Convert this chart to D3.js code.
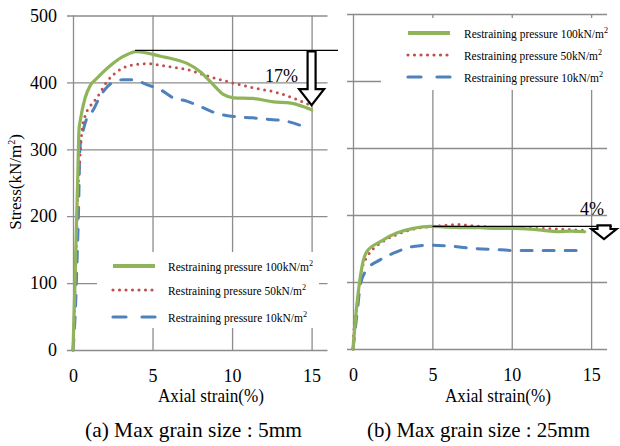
<!DOCTYPE html>
<html>
<head>
<meta charset="utf-8">
<script src="https://cdn.jsdelivr.net/npm/d3@7"></script>
<style>
  body { margin: 0; background: #fff; }
  svg text { font-family: "Liberation Serif", "Times New Roman", serif; fill: #000; }
</style>
</head>
<body>
<svg width="620" height="446"></svg>
<script>
// ---- data ----
var xTicks = [0, 5, 10, 15];
var yTicks = [0, 100, 200, 300, 400, 500];
var seriesNames = ["Restraining pressure 100kN/m", "Restraining pressure 50kN/m", "Restraining pressure 10kN/m"];
var panelTitles = ["(a) Max grain size : 5mm", "(b) Max grain size : 25mm"];

// (a) max grain size 5mm
var strainA100 = [0, 0.1, 0.2, 0.3, 0.38, 0.45, 0.75, 1.1, 1.5, 2.3, 3.1, 4.0, 4.65, 5.5, 6.3, 7.2, 8.0, 8.8, 9.45, 10.1, 11.3, 12.6, 13.7, 15.0];
var stressA100 = [0, 80, 170, 260, 330, 342, 376, 396, 406, 424, 438, 446, 444, 439, 435, 428, 416, 397, 382, 377, 376, 371, 369, 359];
var strainA50 = [0, 0.1, 0.2, 0.3, 0.44, 0.55, 0.75, 1.07, 1.5, 2.1, 2.95, 4.0, 4.65, 5.9, 7.2, 8.4, 9.9, 11.3, 12.8, 13.8, 15.0];
var stressA50 = [0, 70, 150, 230, 289, 325, 349, 364, 377, 400, 419, 427, 428, 424, 419, 410, 400, 392, 385, 377, 365];
var strainA10 = [0, 0.15, 0.25, 0.35, 0.44, 0.6, 0.88, 1.28, 1.7, 2.1, 2.5, 3.15, 3.8, 4.6, 5.5, 6.3, 7.15, 8.0, 9.0, 10.1, 11.3, 12.2, 13.4, 14.4];
var stressA10 = [0, 60, 130, 210, 304, 324, 347, 359, 379, 392, 400, 404, 404, 397, 389, 377, 372, 364, 354, 349, 347, 345, 342, 335];

// (b) max grain size 25mm
var strainB100 = [0, 0.23, 0.55, 0.86, 1.7, 2.75, 3.8, 4.85, 6.0, 7.0, 8.0, 9.0, 10.0, 11.2, 12.0, 12.85, 13.7, 14.6];
var stressB100 = [0, 63, 121, 145, 160, 173, 180, 183, 182, 181, 181, 180, 180, 179, 177, 175, 176, 175];
var strainB50 = [0, 0.05, 0.25, 0.55, 0.9, 1.3, 2.0, 3.0, 4.0, 5.0, 6.0, 6.6, 7.5, 8.5, 10.0, 11.5, 13.0, 14.6];
var stressB50 = [0, 25, 65, 118, 138, 150, 162, 173, 180, 183, 185, 186, 184, 182, 181, 180, 179, 177];
var strainB10 = [0, 0.26, 0.48, 0.86, 1.7, 2.75, 3.8, 4.85, 5.9, 7.6, 9.3, 10.1, 12.2, 14.6];
var stressB10 = [0, 54, 98, 118, 133, 145, 153, 155, 154, 150, 148, 147, 147, 147];

var colors = ["#8fb45a", "#c0504d", "#4f81bd"];
var dashes = [null, "0,6.5", "11,11"];

function zip(xs, ys) {
  return xs.map(function(x, i) { return { x: x, y: ys[i] }; });
}

var svg = d3.select("svg");

var panels = [
  { left: 73, right: 327.5, top: 15.5, bottom: 350, yLabels: true, title: panelTitles[0],
    titleX: 193.5, titleW: 217, axisX: 211,
    series: [zip(strainA100, stressA100), zip(strainA50, stressA50), zip(strainA10, stressA10)],
    legend: { x0: 97, y0: 252, w: 222, h: 76, rows: [266, 290, 317], sx: 113, tx: 168, tw: [145, 138, 139] } },
  { left: 353, right: 607, top: 14, bottom: 349, yLabels: false, title: panelTitles[1],
    titleX: 478.5, titleW: 223, axisX: 498,
    series: [zip(strainB100, stressB100), zip(strainB50, stressB50), zip(strainB10, stressB10)],
    legend: { x0: 381, y0: 18, w: 232, h: 72, rows: [33, 55, 77], sx: 408, tx: 464, tw: [144, 138, 139] } }
];

panels.forEach(function(p, pi) {
  var x = d3.scaleLinear().domain([0, 16]).range([p.left, p.right]);
  var y = d3.scaleLinear().domain([0, 500]).range([p.bottom, p.top]);
  var g = svg.append("g");

  // gridlines via axes
  var yAxis = d3.axisLeft(y).tickValues(yTicks).tickSize(-(p.right - p.left)).tickSizeOuter(0);
  var ya = g.append("g").attr("transform", "translate(" + p.left + ",0)").call(yAxis);
  ya.select(".domain").remove();
  ya.selectAll(".tick line").attr("x1", -6).attr("stroke", "#8c8c8c").attr("stroke-width", 1.3);
  ya.selectAll(".tick text").style("font-family", "Liberation Serif").style("font-size", "18px")
    .attr("x", -16);
  if (!p.yLabels) ya.selectAll(".tick text").remove();

  var xAxis = d3.axisBottom(x).tickValues(xTicks).tickSize(-(p.bottom - p.top)).tickSizeOuter(0);
  var xa = g.append("g").attr("transform", "translate(0," + p.bottom + ")").call(xAxis);
  xa.select(".domain").remove();
  xa.selectAll(".tick line").attr("y1", 0).attr("stroke", "#8c8c8c").attr("stroke-width", 1.3);
  xa.selectAll(".tick text").style("font-family", "Liberation Serif").style("font-size", "18px")
    .attr("y", 32).attr("dy", 0);

  // legend box hides grid
  var L = p.legend;
  g.append("rect").attr("x", L.x0).attr("y", L.y0).attr("width", L.w).attr("height", L.h).attr("fill", "#fff");

  var line = d3.line().x(function(d) { return x(d.x); }).y(function(d) { return y(d.y); })
    .curve(d3.curveMonotoneX);

  // draw 10, 50, then 100
  [2, 1, 0].forEach(function(si) {
    g.append("path").datum(p.series[si]).attr("d", line)
      .attr("fill", "none").attr("stroke", colors[si]).attr("stroke-width", si === 0 ? 3.2 : 3)
      .attr("stroke-linecap", "round").attr("stroke-linejoin", "round")
      .attr("stroke-dasharray", dashes[si]);
  });

  seriesNames.forEach(function(name, si) {
    var ry = L.rows[si];
    g.append("line").attr("x1", L.sx).attr("x2", L.sx + 42).attr("y1", ry).attr("y2", ry)
      .attr("stroke", colors[si]).attr("stroke-width", si === 0 ? 4 : 3.2)
      .attr("stroke-linecap", si === 0 ? "butt" : "round")
      .attr("stroke-dasharray", si === 2 ? "13,16" : dashes[si]);
    var t = g.append("text").attr("x", L.tx).attr("y", ry + 4.5).style("font-size", "12px")
      .attr("textLength", L.tw[si]).attr("lengthAdjust", "spacingAndGlyphs");
    t.append("tspan").text(name);
    t.append("tspan").attr("dy", -5).style("font-size", "8.5px").text("2");
  });

  // axis title
  g.append("text").attr("x", p.axisX).attr("y", 402).attr("text-anchor", "middle")
    .style("font-size", "19px").attr("textLength", 106).attr("lengthAdjust", "spacingAndGlyphs")
    .text("Axial strain(%)");
  // panel caption
  g.append("text").attr("x", p.titleX).attr("y", 437).attr("text-anchor", "middle")
    .style("font-size", "22px").attr("textLength", p.titleW).attr("lengthAdjust", "spacingAndGlyphs")
    .text(p.title);

  p.x = x; p.y = y; p.g = g;
});

// y axis title
var yt = svg.append("text").attr("transform", "translate(21,182) rotate(-90)").attr("text-anchor", "middle")
  .style("font-size", "17px");
yt.append("tspan").text("Stress(kN/m");
yt.append("tspan").attr("dy", -6).style("font-size", "10px").text("2");
yt.append("tspan").attr("dy", 6).text(")");

// hollow down arrow
function arrow(g, cx, top, tip, shaftW, headW, headH) {
  var sw = shaftW / 2, hw = headW / 2, hy = tip - headH;
  var pts = [[cx - sw, top], [cx + sw, top], [cx + sw, hy], [cx + hw, hy], [cx, tip], [cx - hw, hy], [cx - sw, hy]];
  g.append("path").attr("d", "M" + pts.join("L") + "Z").attr("fill", "#fff").attr("stroke", "#000").attr("stroke-width", 2.2)
    .attr("stroke-linejoin", "miter");
}

// annotations (a)
var pa = panels[0];
pa.g.append("line").attr("x1", pa.x(3.9)).attr("x2", 338).attr("y1", pa.y(448)).attr("y2", pa.y(448))
  .attr("stroke", "#000").attr("stroke-width", 1.3);
arrow(pa.g, pa.x(15), pa.y(448) + 1, pa.y(366), 8, 25, 16);
pa.g.append("text").attr("x", 265).attr("y", 82).style("font-size", "18px").text("17%");

// annotations (b)
var pb = panels[1];
pb.g.append("line").attr("x1", pb.x(5)).attr("x2", 612).attr("y1", pb.y(183)).attr("y2", pb.y(183))
  .attr("stroke", "#000").attr("stroke-width", 1.3);
arrow(pb.g, 604, pb.y(183) - 1, 239, 13, 25, 10);
pb.g.append("text").attr("x", 580).attr("y", 215).style("font-size", "18px").text("4%");
</script>
</body>
</html>
